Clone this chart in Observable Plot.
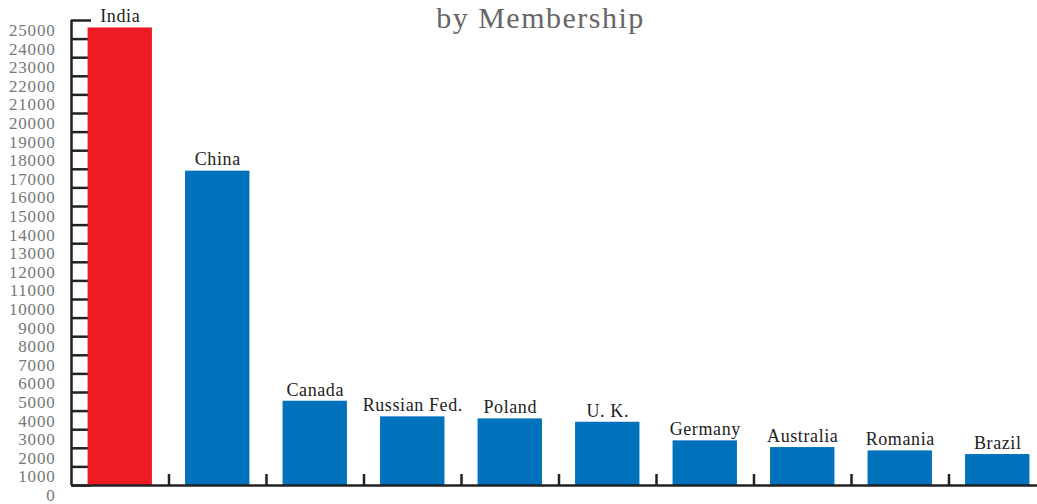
<!DOCTYPE html>
<html>
<head>
<meta charset="utf-8">
<script src="https://cdn.jsdelivr.net/npm/d3@7"></script>
<script src="https://cdn.jsdelivr.net/npm/@observablehq/plot@0.6"></script>
<style>
  html, body { margin: 0; padding: 0; background: #fff; }
  #chart svg { display: block; }
</style>
</head>
<body>
<div id="chart"></div>
<script>
const countries = ["India", "China", "Canada", "Russian Fed.", "Poland", "U. K.", "Germany", "Australia", "Romania", "Brazil"];
const members = [24600, 16900, 4530, 3690, 3580, 3400, 2400, 2040, 1860, 1665];
const barColors = ["#ed1c24", "#0071bb", "#0071bb", "#0071bb", "#0071bb", "#0071bb", "#0071bb", "#0071bb", "#0071bb", "#0071bb"];
const yTicks = d3.range(0, 25001, 1000);
const titleText = "by Membership";

const data = countries.map((c, i) => ({country: c, value: members[i], color: barColors[i]}));

const W = 1037, H = 504;
const mL = 71, mR = -9, mT = 20, mB = 19;
const frameW = W - mL - mR;
const frameH = H - mT - mB;
const step = frameW / countries.length;

const chart = Plot.plot({
  width: W,
  height: H,
  marginLeft: mL,
  marginRight: mR,
  marginTop: mT,
  marginBottom: mB,
  style: {fontFamily: "'Liberation Serif', serif", background: "#fff", overflow: "hidden"},
  x: {domain: countries, paddingInner: 0.34, paddingOuter: 0.17, round: false, axis: null},
  y: {domain: [0, 25000], axis: null, label: null},
  marks: [
    // y-axis ticks pointing inward
    Plot.gridY(yTicks, {stroke: "#222", strokeOpacity: 1, strokeWidth: 2.5, insetRight: frameW - 20}),
    // x-axis ticks at band boundaries
    Plot.tickX(countries, {x: d => d, dx: step / 2, stroke: "#222", strokeWidth: 2.5, insetTop: frameH - 11}),
    Plot.barY(data, {x: "country", y: "value", fill: "color"}),
    Plot.ruleY([0], {stroke: "#222", strokeWidth: 2.5}),
    Plot.ruleX([countries[0]], {dx: -step / 2, stroke: "#222", strokeWidth: 2.5}),
    Plot.text(data, {x: "country", y: "value", text: "country", dy: -11.5, fontSize: 18, fill: "#222"}),
    Plot.axisY({ticks: yTicks, tickSize: 0, tickPadding: 16, dy: 10, fontSize: 17, color: "#777", fill: "#777", label: null, tickFormat: d => String(d)}),
    Plot.text([titleText], {frameAnchor: "top", dx: -18.5, dy: -14, fontSize: 30, fill: "#666"})
  ]
});

// letter spacing to approximate the wider serif face of the original
const textGroups = d3.select(chart).selectAll('g[aria-label="text"]').nodes();
if (textGroups[0]) d3.select(textGroups[0]).style("letter-spacing", "0.6px");
if (textGroups[1]) d3.select(textGroups[1]).style("letter-spacing", "1.5px");
d3.select(chart).selectAll('g[aria-label="y-axis tick label"]').style("letter-spacing", "0.8px");

document.getElementById("chart").appendChild(chart);
</script>
</body>
</html>
